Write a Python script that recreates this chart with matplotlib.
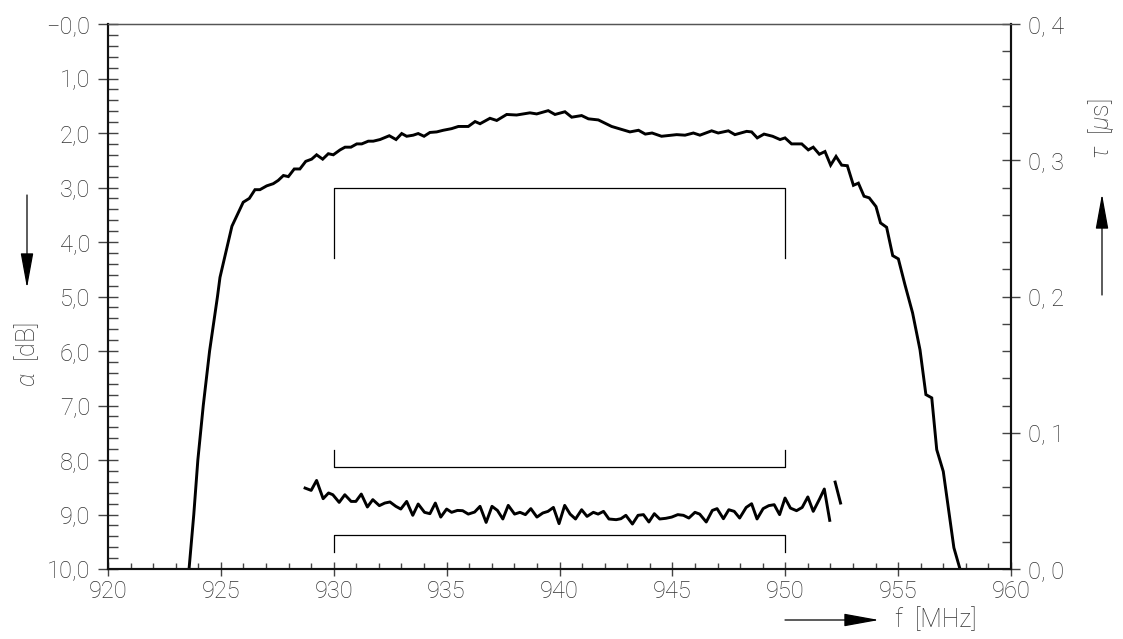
import matplotlib.pyplot as plt
from matplotlib.ticker import MultipleLocator

plt.rcParams['font.family'] = ['Roboto', 'DejaVu Sans']
plt.rcParams['mathtext.fontset'] = 'custom'
plt.rcParams['mathtext.rm'] = 'Roboto:light'
plt.rcParams['mathtext.it'] = 'Roboto:italic:light'

# attenuation alpha [dB] over frequency [MHz]
att_f = [923.45, 923.59, 923.80, 923.98, 924.22, 924.50, 924.85, 924.96, 925.49,
         925.99, 926.26, 926.51, 926.73, 927.03, 927.32, 927.54, 927.77, 927.99,
         928.25, 928.50, 928.76, 929.02, 929.24, 929.51, 929.76, 929.98, 930.28,
         930.50, 930.76, 931.02, 931.24, 931.53, 931.75, 932.05, 932.46, 932.76,
         933.01, 933.23, 933.52, 933.74, 934.00, 934.26, 934.56, 934.85, 935.22,
         935.52, 935.96, 936.26, 936.48, 936.92, 937.22, 937.66, 938.10, 938.69,
         938.99, 939.50, 939.80, 940.24, 940.54, 940.98, 941.28, 941.72, 942.31,
         943.12, 943.50, 943.80, 944.10, 944.52, 945.19, 945.56, 945.93, 946.22,
         946.74, 947.03, 947.48, 947.77, 948.29, 948.51, 948.76, 949.06, 949.44,
         949.77, 949.99, 950.28, 950.73, 951.02, 951.24, 951.51, 951.76, 952.01,
         952.25, 952.50, 952.75, 953.02, 953.24, 953.49, 953.72, 954.02, 954.22,
         954.49, 954.76, 955.01, 955.30, 955.64, 955.97, 956.23, 956.49, 956.71,
         957.00, 957.47, 957.74, 957.85]
att_db = [10.5, 10.0, 9.0, 8.0, 7.0, 6.0, 5.0, 4.65, 3.71,
          3.27, 3.20, 3.04, 3.04, 2.97, 2.93, 2.87, 2.78, 2.80,
          2.66, 2.66, 2.52, 2.48, 2.40, 2.48, 2.38, 2.40, 2.31,
          2.26, 2.26, 2.20, 2.20, 2.15, 2.15, 2.12, 2.05, 2.12,
          2.01, 2.06, 2.04, 2.01, 2.06, 1.99, 1.98, 1.95, 1.92,
          1.88, 1.88, 1.79, 1.83, 1.73, 1.77, 1.66, 1.67, 1.63,
          1.65, 1.59, 1.66, 1.61, 1.71, 1.68, 1.74, 1.76, 1.88,
          1.98, 1.95, 2.02, 2.00, 2.06, 2.03, 2.04, 2.00, 2.04,
          1.96, 2.00, 1.96, 2.03, 1.97, 1.98, 2.09, 2.02, 2.06,
          2.12, 2.09, 2.20, 2.20, 2.31, 2.26, 2.39, 2.34, 2.59,
          2.43, 2.59, 2.60, 2.96, 2.92, 3.16, 3.19, 3.35, 3.65,
          3.73, 4.25, 4.31, 4.78, 5.30, 5.98, 6.80, 6.86, 7.81,
          8.21, 9.61, 10.0, 10.4]

# group delay tau [us]
gd_f = [928.73, 929.00, 929.24, 929.53, 929.77, 929.96, 930.24, 930.49, 930.77,
        930.98, 931.22, 931.49, 931.73, 932.02, 932.26, 932.49, 932.75, 932.97,
        933.23, 933.50, 933.74, 934.02, 934.26, 934.50, 934.74, 935.00, 935.22,
        935.48, 935.71, 935.96, 936.24, 936.48, 936.75, 937.01, 937.25, 937.49,
        937.73, 938.01, 938.25, 938.49, 938.73, 939.00, 939.26, 939.49, 939.73,
        939.98, 940.23, 940.47, 940.71, 940.98, 941.22, 941.50, 941.71, 941.95,
        942.19, 942.51, 942.72, 942.94, 943.23, 943.48, 943.72, 943.96, 944.20,
        944.44, 944.71, 944.97, 945.24, 945.49, 945.73, 946.00, 946.21, 946.50,
        946.77, 946.98, 947.26, 947.50, 947.74, 947.98, 948.27, 948.51, 948.75,
        949.02, 949.27, 949.51, 949.75, 949.99, 950.23, 950.50, 950.75, 951.00,
        951.24, 951.52, 951.73, 951.97]
gd_tau = [0.0594, 0.0577, 0.0650, 0.0516, 0.0558, 0.0545, 0.0489, 0.0545, 0.0496,
          0.0496, 0.0550, 0.0455, 0.0509, 0.0465, 0.0484, 0.0492, 0.0460, 0.0440,
          0.0496, 0.0394, 0.0477, 0.0416, 0.0406, 0.0484, 0.0381, 0.0440, 0.0416,
          0.0430, 0.0428, 0.0403, 0.0418, 0.0460, 0.0342, 0.0460, 0.0430, 0.0367,
          0.0467, 0.0403, 0.0416, 0.0399, 0.0443, 0.0381, 0.0411, 0.0423, 0.0452,
          0.0333, 0.0467, 0.0403, 0.0367, 0.0435, 0.0386, 0.0416, 0.0403, 0.0423,
          0.0367, 0.0362, 0.0369, 0.0394, 0.0330, 0.0394, 0.0399, 0.0345, 0.0406,
          0.0367, 0.0372, 0.0381, 0.0399, 0.0394, 0.0374, 0.0416, 0.0403, 0.0345,
          0.0430, 0.0443, 0.0369, 0.0435, 0.0423, 0.0374, 0.0452, 0.0479, 0.0367,
          0.0443, 0.0465, 0.0472, 0.0399, 0.0521, 0.0447, 0.0428, 0.0452, 0.0529,
          0.0423, 0.0514, 0.0587, 0.0357]
gd_f2 = [952.21, 952.45]
gd_tau2 = [0.0638, 0.0484]

# tolerance masks
pass_lo, pass_hi = 930, 950
att_limit, att_leg = 3.0, 4.3
tau_upper, tau_upper_leg = 0.075, 0.0876
tau_lower, tau_lower_leg = 0.025, 0.0124

left_ticks = [0, 1, 2, 3, 4, 5, 6, 7, 8, 9, 10]
left_labels = ['\u22120,0', '1,0', '2,0', '3,0', '4,0', '5,0', '6,0', '7,0', '8,0', '9,0', '10,0']
right_ticks = [0.0, 0.1, 0.2, 0.3, 0.4]
right_labels = ['0, 0', '0, 1', '0, 2', '0, 3', '0, 4']
x_ticks = [920, 925, 930, 935, 940, 945, 950, 955, 960]

txt = '#333333'
W, H = 1123, 639
fig = plt.figure(figsize=(W / 100, H / 100), dpi=100)
ax = fig.add_axes([108 / W, 1 - 569 / H, (1011 - 108) / W, (569 - 24) / H])
ax2 = ax.twinx()

ax.set_xlim(920, 960)
ax.set_ylim(10, 0)
ax2.set_ylim(0, 0.4)

for a in (ax, ax2):
    for s in ('left', 'bottom', 'right'):
        a.spines[s].set_linewidth(1.5)
        a.spines[s].set_color('#111111')
    a.spines['top'].set_linewidth(0.9)
    a.spines['top'].set_color('#555555')

# curves
ax.plot(att_f, att_db, color='black', lw=2.1, solid_joinstyle='miter')
ax2.plot(gd_f, gd_tau, color='black', lw=2.1)
ax2.plot(gd_f2, gd_tau2, color='black', lw=2.1)

# attenuation mask
ax.plot([pass_lo, pass_lo, pass_hi, pass_hi], [att_leg, att_limit, att_limit, att_leg],
        color='black', lw=0.9)
# group delay masks
ax2.plot([pass_lo, pass_lo, pass_hi, pass_hi],
         [tau_upper_leg, tau_upper, tau_upper, tau_upper_leg], color='black', lw=0.9)
ax2.plot([pass_lo, pass_lo, pass_hi, pass_hi],
         [tau_lower_leg, tau_lower, tau_lower, tau_lower_leg], color='black', lw=0.9)

# ticks
ax.set_xticks(x_ticks)
ax.xaxis.set_minor_locator(MultipleLocator(1))
ax.set_yticks(left_ticks, left_labels)
ax.yaxis.set_minor_locator(MultipleLocator(0.2))
ax2.set_yticks(right_ticks, right_labels)
ax2.yaxis.set_minor_locator(MultipleLocator(0.02))

ax.tick_params(axis='x', which='major', direction='inout', length=9.4, width=1.0,
               color='#444444', pad=3.2, labelsize=17, labelcolor=txt)
ax.tick_params(axis='x', which='minor', direction='in', length=4.4, width=1.0, color='#444444')
ax.tick_params(axis='y', which='major', direction='inout', length=13.7, width=1.0,
               color='#444444', pad=6.0, labelsize=17, labelcolor=txt)
ax.tick_params(axis='y', which='minor', direction='in', length=7.0, width=1.0, color='#444444')
ax2.tick_params(axis='y', which='major', direction='inout', length=13.0, width=1.0,
                color='#444444', pad=5.8, labelsize=17, labelcolor=txt)
ax2.tick_params(axis='y', which='minor', direction='in', length=6.5, width=1.0, color='#444444')

for lab in ax.get_yticklabels() + ax2.get_yticklabels() + ax.get_xticklabels():
    lab.set_fontweight('light')

# axis titles with direction arrows
arrow = dict(arrowstyle='-|>,head_length=2.2,head_width=0.4', color='black',
             lw=0.9, mutation_scale=10, shrinkA=0, shrinkB=0)


def fig_xy(px, py):
    return (px / W, 1 - py / H)


fig.text(*fig_xy(27, 355), r'$\alpha$  [dB]', rotation=90, ha='center', va='center',
         fontsize=18, color=txt, fontweight='light')
ax.annotate('', xy=fig_xy(27, 288), xytext=fig_xy(27, 195), xycoords='figure fraction',
            textcoords='figure fraction', arrowprops=arrow)

fig.text(*fig_xy(1101, 129), r'$\tau$  [$\mu$s]', rotation=90, ha='center', va='center',
         fontsize=18, color=txt, fontweight='light')
ax.annotate('', xy=fig_xy(1102, 194), xytext=fig_xy(1102, 295), xycoords='figure fraction',
            textcoords='figure fraction', arrowprops=arrow)

fig.text(*fig_xy(895, 620), 'f  [MHz]', ha='left', va='center',
         fontsize=18, color=txt, fontweight='light')
ax.annotate('', xy=fig_xy(879, 620), xytext=fig_xy(785, 620), xycoords='figure fraction',
            textcoords='figure fraction', arrowprops=arrow)

fig.savefig('out.png', dpi=100)
